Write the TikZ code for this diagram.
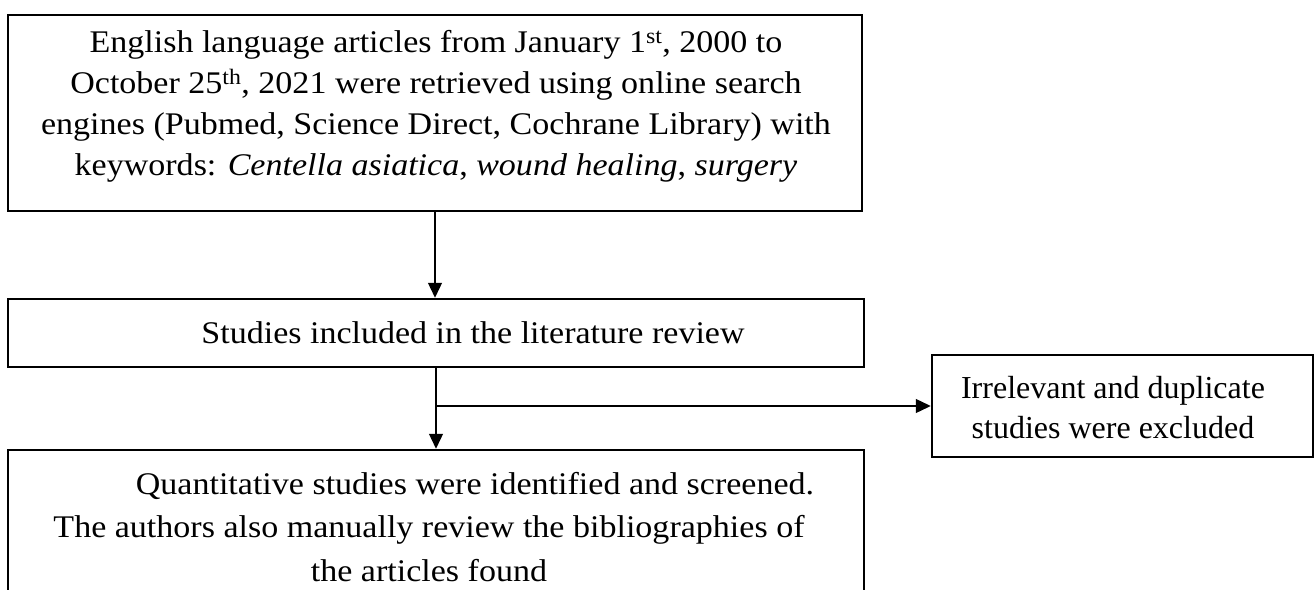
\documentclass[tikz,border=0pt]{standalone}
\usepackage{fontspec}
\setmainfont{Liberation Serif}[FakeStretch=1.08]
\newfontfamily\tnr{Liberation Serif}
\usetikzlibrary{arrows.meta}
\begin{document}
\begin{tikzpicture}[x=1pt,y=-1pt,
  boxnode/.style={draw=black, line width=2.5pt, inner sep=0pt},
  txt/.style={align=center, inner sep=0pt, font=\fontsize{31.5}{41}\selectfont},
  conn/.style={draw=black, line width=1.3pt, -{Triangle[length=15pt,width=14pt]}}]
\clip (0,0) rectangle (1316,589);
% boxes
\node[boxnode, minimum width=854pt, minimum height=196pt] (b1) at (435,113) {};
\node[boxnode, minimum width=856pt, minimum height=68pt] (b2) at (436,333) {};
\node[boxnode, minimum width=381pt, minimum height=102pt] (b3) at (1122.5,406) {};
\node[boxnode, minimum width=856pt, minimum height=150pt] (b4) at (436,525) {};
% texts
\node[txt] (t1) at (436,106) {English language articles from January 1\textsuperscript{st}, 2000 to\\
October 25\textsuperscript{th}, 2021 were retrieved using online search\\
engines (Pubmed, Science Direct, Cochrane Library) with\\
keywords: \textit{Centella asiatica}, \textit{wound healing}, \textit{surgery}};
\node[txt] (t2) at (473,333) {Studies included in the literature review};
\node[txt, font=\tnr\fontsize{32}{40}\selectfont] (t3) at (1113,408) {Irrelevant and duplicate\\studies were excluded};
\node[txt, font=\fontsize{31.5}{43.5}\selectfont] (t4) at (429,527) {\hspace*{92pt}Quantitative studies were identified and screened.\\
The authors also manually review the bibliographies of\\
the articles found};
% connectors
\coordinate (br) at (436,406);
\draw[conn] (b1.south) -- (b1.south |- b2.north);
\draw[conn] (b2.south) -- (b4.north);
\draw[conn] (br) -- (b3.west);
\end{tikzpicture}
\end{document}
